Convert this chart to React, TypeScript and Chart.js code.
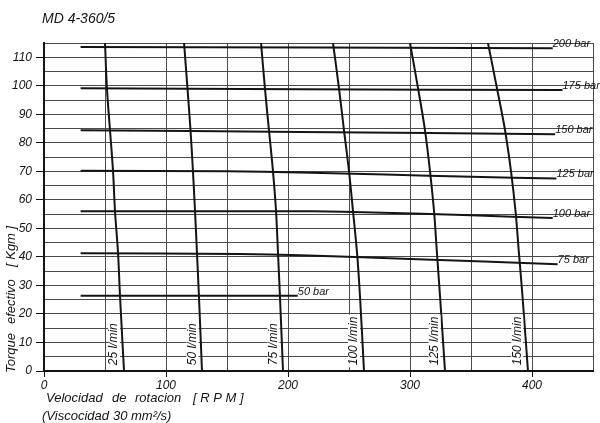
import React, { useEffect, useRef } from 'react';
import { Chart, registerables } from 'chart.js';

Chart.register(...registerables);

// ---------- data ----------
const chartTitle = 'MD 4-360/5';
const yTitleWords = ['Torque', 'efectivo', '[ Kgm ]'];
const xTitleLine1 = ['Velocidad', 'de', 'rotacion', '[ R P M ]'];
const xTitleLine2 = ['(Viscocidad', '30', 'mm²/s)'];

// torque levels (Kgm) at which the flow curves were read
const torqueLevels = [115, 99.1, 84.4, 70, 56, 41.3, 26.3, 0];

const flowLabels = ['25 l/min', '50 l/min', '75 l/min', '100 l/min', '125 l/min', '150 l/min'];
const flow25Rpm = [50, 51.6, 54.1, 56.6, 58.2, 60.7, 62.3, 65.6];
const flow50Rpm = [114.8, 117.6, 120.1, 122.1, 123.8, 125.4, 127, 129.5];
const flow75Rpm = [177.9, 181.1, 184.4, 187.7, 190.2, 191.8, 193.4, 195.9];
const flow100Rpm = [236.9, 241.8, 245.9, 250, 253.3, 256.6, 259, 262.3];
const flow125Rpm = [300, 306.6, 312.3, 316.4, 319.7, 322.1, 324.6, 328.7];
const flow150Rpm = [363.9, 371.3, 377.9, 382.8, 386.5, 389.3, 392.2, 396.7];
const flowRpm = [flow25Rpm, flow50Rpm, flow75Rpm, flow100Rpm, flow125Rpm, flow150Rpm];

const pressureLabels = ['200 bar', '175 bar', '150 bar', '125 bar', '100 bar', '75 bar', '50 bar'];
const p200Rpm = [30, 417];
const p200Torque = [113.6, 113.2];
const p175Rpm = [30, 210, 425];
const p175Torque = [99.1, 98.8, 98.5];
const p150Rpm = [30, 210, 419];
const p150Torque = [84.4, 83.8, 83.0];
const p125Rpm = [30, 150, 210, 280, 350, 420];
const p125Torque = [70.2, 70.0, 69.6, 68.9, 68.1, 67.5];
const p100Rpm = [30, 220, 270, 350, 417];
const p100Torque = [56.0, 56.0, 55.6, 54.6, 53.6];
const p75Rpm = [30, 160, 210, 300, 421];
const p75Torque = [41.3, 41.0, 40.6, 39.3, 37.4];
const p50Rpm = [30, 208];
const p50Torque = [26.4, 26.4];
const pressureRpm = [p200Rpm, p175Rpm, p150Rpm, p125Rpm, p100Rpm, p75Rpm, p50Rpm];
const pressureTorque = [p200Torque, p175Torque, p150Torque, p125Torque, p100Torque, p75Torque, p50Torque];

const xMin = 0;
const xMax = 450;
const xGridStep = 50;
const xLabelStep = 100;
const yMin = 0;
const yMax = 115;
const yGridStep = 5;
const yLabelStep = 10;

// ---------- styling ----------
const INK = '#141414';
const GRID = '#4a4a4a';
const fontFam = '"Liberation Sans", "DejaVu Sans", sans-serif';
const italic = (s: number) => `italic ${s}px ${fontFam}`;

const textPlugin = {
  id: 'sketchText',
  beforeDraw(chart: any) {
    const { ctx, width, height } = chart;
    ctx.save();
    ctx.fillStyle = '#ffffff';
    ctx.fillRect(0, 0, width, height);
    ctx.restore();
  },
  afterDatasetsDraw(chart: any) {
    const { ctx } = chart;
    const xs = chart.scales.x;
    const ys = chart.scales.y;
    ctx.save();
    ctx.fillStyle = INK;

    // title
    ctx.font = italic(14);
    ctx.textAlign = 'left';
    ctx.textBaseline = 'middle';
    ctx.fillText(chartTitle, 42, 19);

    // pressure labels at end of each line
    ctx.font = italic(11);
    ctx.textAlign = 'left';
    ctx.textBaseline = 'alphabetic';
    pressureLabels.forEach((lab, i) => {
      const rx = pressureRpm[i];
      const ty = pressureTorque[i];
      const px = xs.getPixelForValue(rx[rx.length - 1]);
      const py = ys.getPixelForValue(ty[ty.length - 1]);
      ctx.fillText(lab, px, py - 1);
    });

    // flow labels, rotated, left of each curve
    ctx.font = italic(12);
    flowLabels.forEach((lab, i) => {
      const r = flowRpm[i];
      const n = r.length;
      const midRpm = (r[n - 1] + r[n - 2]) / 2;
      const cx = xs.getPixelForValue(midRpm) - 8;
      const by = ys.getPixelForValue(2);
      const w = ctx.measureText(lab).width;
      ctx.save();
      ctx.translate(cx, by);
      ctx.rotate(-Math.PI / 2);
      ctx.fillStyle = '#ffffff';
      ctx.fillRect(-2, -6, w + 4, 12);
      ctx.fillStyle = INK;
      ctx.textAlign = 'left';
      ctx.textBaseline = 'middle';
      ctx.fillText(lab, 0, 0);
      ctx.restore();
    });

    // y axis title (rotated)
    ctx.font = italic(13);
    const yStarts = [373, 324, 267];
    yTitleWords.forEach((w, i) => {
      ctx.save();
      ctx.translate(11, yStarts[i]);
      ctx.rotate(-Math.PI / 2);
      ctx.textAlign = 'left';
      ctx.textBaseline = 'middle';
      ctx.fillText(w, 0, 0);
      ctx.restore();
    });

    // x axis title
    ctx.font = italic(13);
    ctx.textAlign = 'left';
    ctx.textBaseline = 'middle';
    const x1 = [46, 112, 135, 193];
    xTitleLine1.forEach((w, i) => ctx.fillText(w, x1[i], 398));
    const x2 = [42, 113, 131];
    xTitleLine2.forEach((w, i) => ctx.fillText(w, x2[i], 416));
    ctx.restore();
  },
};

export default function App() {
  const ref = useRef<HTMLCanvasElement | null>(null);

  useEffect(() => {
    if (!ref.current) return;
    const datasets: any[] = [];
    pressureRpm.forEach((r, i) => {
      datasets.push({
        label: pressureLabels[i],
        data: r.map((v, k) => ({ x: v, y: pressureTorque[i][k] })),
        borderColor: INK,
        borderWidth: 2,
        pointRadius: 0,
        tension: 0.2,
        fill: false,
      });
    });
    flowRpm.forEach((r, i) => {
      datasets.push({
        label: flowLabels[i],
        data: r.map((v, k) => ({ x: v, y: torqueLevels[k] })),
        borderColor: INK,
        borderWidth: 2,
        pointRadius: 0,
        tension: 0.35,
        fill: false,
      });
    });

    const chart = new Chart(ref.current, {
      type: 'line',
      data: { datasets },
      options: {
        animation: false,
        responsive: false,
        devicePixelRatio: 1,
        layout: { padding: { left: 0, right: 7, top: 43, bottom: 0 } },
        plugins: {
          legend: { display: false },
          tooltip: { enabled: false },
          title: { display: false },
        },
        scales: {
          x: {
            type: 'linear',
            min: xMin,
            max: xMax,
            afterFit: (s: any) => {
              s.height = 52;
            },
            afterBuildTicks: (s: any) => {
              const t = [];
              for (let v = xMin; v <= xMax; v += xGridStep) t.push({ value: v });
              s.ticks = t;
            },
            border: { color: INK, width: 2 },
            grid: {
              color: GRID,
              lineWidth: 1,
              tickLength: 6,
              tickColor: (c: any) => (c.tick && c.tick.value % xLabelStep === 0 ? INK : 'rgba(0,0,0,0)'),
            },
            ticks: {
              autoSkip: false,
              maxRotation: 0,
              padding: 1,
              color: INK,
              font: { family: fontFam, size: 12, style: 'italic' },
              callback: (v: any) => (Number(v) % xLabelStep === 0 && Number(v) < xMax ? String(v) : ''),
            },
          },
          y: {
            type: 'linear',
            min: yMin,
            max: yMax,
            afterFit: (s: any) => {
              s.width = 44;
            },
            afterBuildTicks: (s: any) => {
              const t = [];
              for (let v = yMin; v <= yMax; v += yGridStep) t.push({ value: v });
              s.ticks = t;
            },
            border: { color: INK, width: 2 },
            grid: {
              color: GRID,
              lineWidth: 1,
              tickLength: 8,
              tickColor: (c: any) => (c.tick && c.tick.value % yLabelStep === 0 ? INK : 'rgba(0,0,0,0)'),
            },
            ticks: {
              autoSkip: false,
              padding: 4,
              color: INK,
              font: { family: fontFam, size: 12, style: 'italic' },
              callback: (v: any) => (Number(v) % yLabelStep === 0 ? String(v) : ''),
            },
          },
        },
      },
      plugins: [textPlugin],
    });
    return () => chart.destroy();
  }, []);

  return (
    <div style={{ position: 'fixed', left: 0, top: 0, width: 600, height: 423, background: '#fff' }}>
      <canvas ref={ref} width={600} height={423} style={{ display: 'block', width: 600, height: 423 }} />
    </div>
  );
}
